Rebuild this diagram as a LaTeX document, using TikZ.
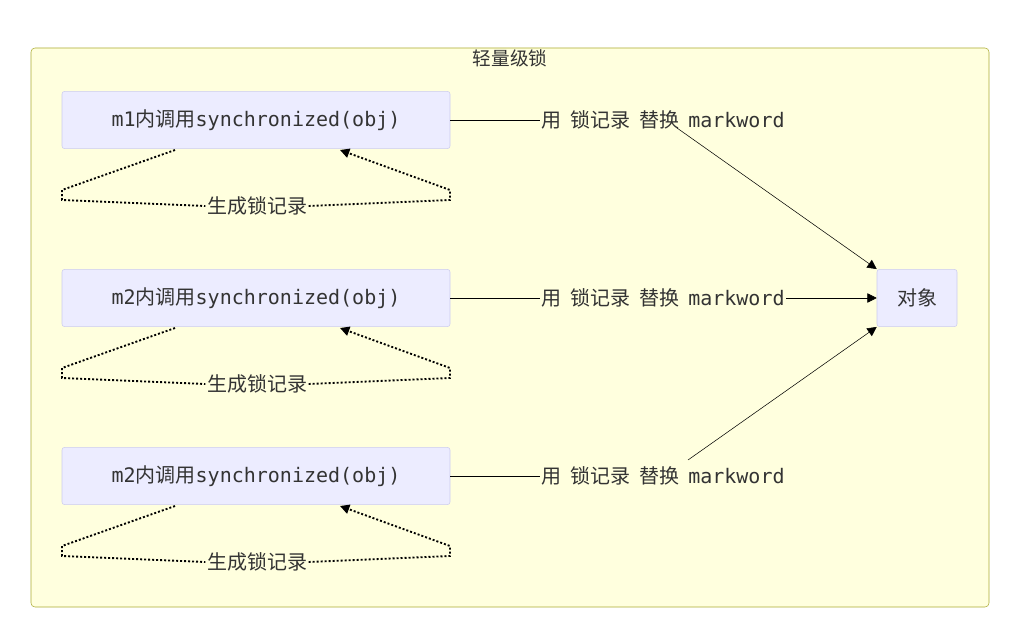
\documentclass[tikz,border=0pt]{standalone}
\usepackage{fontspec}
\setmainfont{Noto Sans CJK SC}
\newfontfamily\cjk{Noto Sans CJK SC}
\setmonofont{DejaVu Sans Mono}
\usetikzlibrary{arrows.meta}
\definecolor{bg}{RGB}{255,255,222}
\definecolor{bgb}{RGB}{170,170,51}
\definecolor{nf}{RGB}{236,236,255}
\definecolor{nb}{RGB}{204,204,238}
\definecolor{tx}{RGB}{51,51,51}
\tikzset{
 x=0.75pt,y=-0.75pt,
 box/.style={draw=nb,fill=nf,rounded corners=2pt,minimum width=291pt,minimum height=43pt,text=tx,font=\fontsize{15}{17}\selectfont},
 lbl/.style={fill=bg,text=tx,inner sep=1pt,font=\fontsize{15}{17}\selectfont},
 dl/.style={draw=black,line width=1.4pt,dash pattern=on 1.5pt off 1.5pt},
 ar/.style={-{Triangle[length=7pt,width=7pt]}},
}
\begin{document}
\begin{tikzpicture}
\useasboundingbox (0,0) rectangle (1014,620);
\fill[white] (0,0) rectangle (1014,620);
\draw[bgb,fill=bg,rounded corners=3pt] (31,48) rectangle (989,607);
\node[text=tx,font=\fontsize{14}{16}\selectfont] (title) at (510,58) {轻量级锁};
\node[box,draw=nb,minimum width=60pt] (obj) at (917,298) {对象};
\foreach \i/\y/\m in {1/120/m1,2/298/m2,3/476/m2}{
 \node[box] (b\i) at (256,\y) {\texttt{\m}内调用\texttt{synchronized(obj)}};
 \node[lbl] (l\i) at (663,\y) {用\ \ 锁记录\ \ 替换\ \ \texttt{markword}};
 \coordinate (s\i) at (175,\y+30);
 \coordinate (e\i) at (340,\y+30);
 \node[lbl] (g\i) at (257,\y+86) {生成锁记录};
 \draw[dl] (s\i) -- (62,\y+70) -- (62,\y+80) -- (g\i.west);
 \draw[dl,ar] (g\i.east) -- (450,\y+80) -- (450,\y+70) -- (e\i);
 \draw (b\i.east) -- (l\i.west);
}
\draw[ar] (677,128) -- (obj.north west);
\draw[ar] (l2.east) -- (obj.west);
\draw[ar] (688,460) -- (obj.south west);
\end{tikzpicture}
\end{document}
